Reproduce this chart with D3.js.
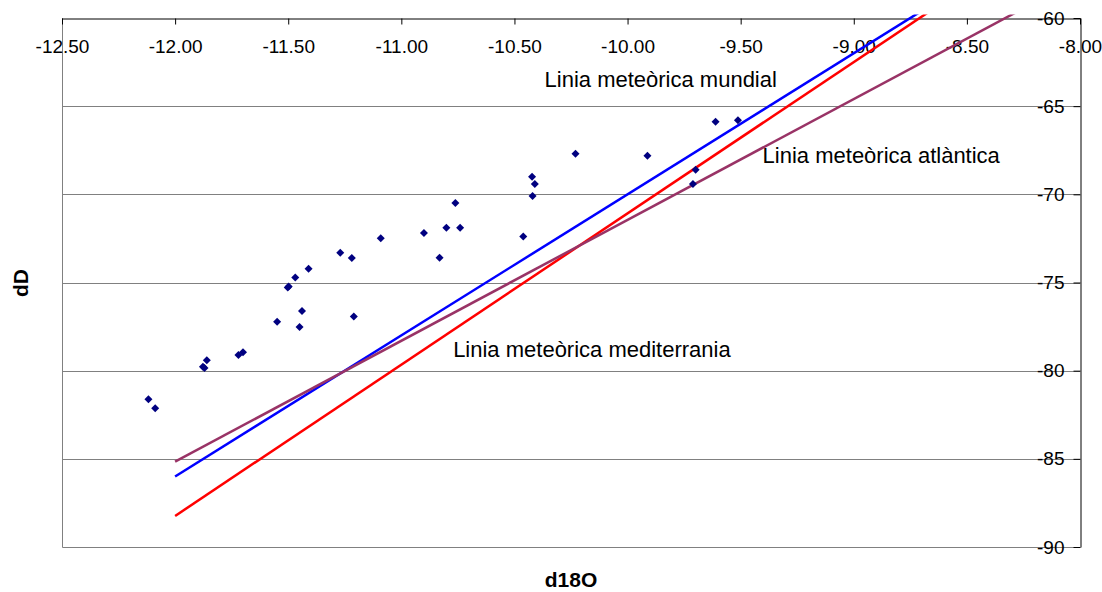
<!DOCTYPE html>
<html>
<head>
<meta charset="utf-8">
<script src="https://cdn.jsdelivr.net/npm/d3@7"></script>
<style>
  body { margin: 0; background: #fff; }
  svg { font-family: 'Liberation Sans', Arial, sans-serif; }
  .tick text { font-size: 19px; fill: #000; }
  .note { font-size: 22px; fill: #000; }
  .title { font-size: 21px; font-weight: bold; fill: #000; }
</style>
</head>
<body>
<svg id="chart" width="1102" height="592"></svg>
<script>
// samples: d18O and dD
const d18O = [-12.118, -12.088, -11.877, -11.870, -11.860, -11.720, -11.700, -11.549,
  -11.502, -11.498, -11.469, -11.450, -11.439, -11.410, -11.270, -11.219, -11.210,
  -11.091, -10.900, -10.831, -10.801, -10.761, -10.740, -10.461, -10.422, -10.410,
  -10.420, -10.230, -9.912, -9.711, -9.699, -9.611, -9.512]
const dD = [-81.62, -82.13, -79.78, -79.85, -79.41, -79.11, -78.96, -77.22,
  -75.28, -75.23, -74.71, -77.52, -76.62, -74.22, -73.31, -73.61, -76.93,
  -72.49, -72.19, -73.59, -71.89, -70.49, -71.89, -72.39, -69.00, -69.41,
  -70.09, -67.70, -67.81, -69.41, -68.60, -65.88, -65.80]

// meteoric lines, two end points each
const lineX = [-12, -8]
const mundialY = [-86.0, -54.0]
const mediterraniaY = [-88.24, -53.92]
const atlanticaY = [-85.16, -57.74]

const xTicks = [-12.5, -12, -11.5, -11, -10.5, -10, -9.5, -9, -8.5, -8]
const yTicks = [-90, -85, -80, -75, -70, -65, -60]

const margin = { top: 18, left: 62, right: 22, bottom: 45 }
const width = 1102 - margin.left - margin.right
const height = 592 - margin.top - margin.bottom

const svg = d3.select('#chart')

const x = d3.scaleLinear().domain([-12.5, -8]).range([margin.left, margin.left + width])
const y = d3.scaleLinear().domain([-90, -60]).range([margin.top + height, margin.top])

// grid
svg.append('g')
  .selectAll('line')
  .data(yTicks.slice(1, -1))
  .enter()
  .append('line')
  .attr('x1', x(-12.5))
  .attr('x2', x(-8))
  .attr('y1', d => Math.round(y(d)) + 0.5)
  .attr('y2', d => Math.round(y(d)) + 0.5)
  .attr('stroke', '#808080')
  .attr('stroke-width', 1)

// plot frame (left and bottom)
svg.append('path')
  .attr('d', `M${x(-12.5) + 0.5},${y(-60)}V${Math.round(y(-90)) + 0.5}H${x(-8)}`)
  .attr('fill', 'none')
  .attr('stroke', '#808080')

// top axis
svg.append('g')
  .attr('transform', `translate(0,${Math.round(y(-60)) + 0.5})`)
  .call(d3.axisBottom(x).tickValues(xTicks).tickFormat(d => d.toFixed(2))
    .tickSize(6).tickSizeOuter(0).tickPadding(15))
  .call(g => g.selectAll('.tick text').attr('font-family', null).attr('font-size', null))
  .call(g => g.selectAll('line, path').attr('stroke', '#000'))

// right axis
svg.append('g')
  .attr('transform', `translate(${Math.round(x(-8)) + 0.5},0)`)
  .call(d3.axisLeft(y).tickValues(yTicks).tickFormat(d => String(d))
    .tickSize(7).tickSizeOuter(0).tickPadding(9))
  .call(g => g.selectAll('.tick text').attr('font-family', null).attr('font-size', null))
  .call(g => g.selectAll('line, path').attr('stroke', '#000'))

// clip lines to plot (a few px of overshoot at top like the original)
svg.append('clipPath')
  .attr('id', 'plot-clip')
  .append('rect')
  .attr('x', x(-12.5))
  .attr('y', y(-60) - 3.5)
  .attr('width', width)
  .attr('height', height + 3.5)

const line = d3.line().x(d => x(d[0])).y(d => y(d[1]))

const lines = [
  { ys: mundialY, color: '#0000ff' },
  { ys: mediterraniaY, color: '#ff0000' },
  { ys: atlanticaY, color: '#993366' }
]

svg.append('g')
  .attr('clip-path', 'url(#plot-clip)')
  .selectAll('path')
  .data(lines)
  .enter()
  .append('path')
  .attr('d', d => line(lineX.map((v, i) => [v, d.ys[i]])))
  .attr('fill', 'none')
  .attr('stroke', d => d.color)
  .attr('stroke-width', 2.5)

// samples as diamonds
svg.append('g')
  .selectAll('path')
  .data(d18O.map((v, i) => [v, dD[i]]))
  .enter()
  .append('path')
  .attr('d', d3.symbol(d3.symbolSquare, 32))
  .attr('transform', d => `translate(${x(d[0])},${y(d[1])}) rotate(45)`)
  .attr('fill', '#000080')

// line labels
const notes = [
  { text: 'Linia meteòrica mundial', at: [-10.367, -63.9] },
  { text: 'Linia meteòrica atlàntica', at: [-9.403, -68.22] },
  { text: 'Linia meteòrica mediterrania', at: [-10.771, -79.23] }
]

svg.append('g')
  .selectAll('text')
  .data(notes)
  .enter()
  .append('text')
  .attr('class', 'note')
  .attr('x', d => x(d.at[0]))
  .attr('y', d => y(d.at[1]))
  .text(d => d.text)

// axis titles
svg.append('text')
  .attr('class', 'title')
  .attr('x', 571)
  .attr('y', 587)
  .attr('text-anchor', 'middle')
  .text('d18O')

svg.append('text')
  .attr('class', 'title')
  .attr('transform', 'translate(28,283) rotate(-90)')
  .attr('text-anchor', 'middle')
  .text('dD')
</script>
</body>
</html>
